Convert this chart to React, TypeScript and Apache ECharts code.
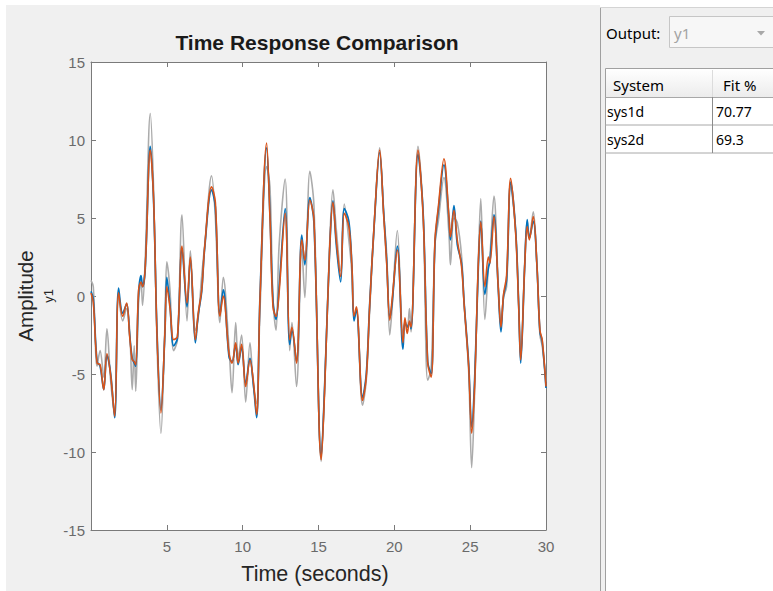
import React, { useEffect, useRef } from "react";
import * as echarts from "echarts";

// ---- data ----
const timeSec = [
  0.0, 0.15, 0.4, 0.6, 0.84, 1.05, 1.3, 1.56, 1.82, 2.09, 2.35, 2.55, 2.72, 2.85, 2.95,
  3.14, 3.3, 3.4, 3.58, 3.91, 4.13, 4.35, 4.61, 4.87, 5.0, 5.2, 5.45, 5.7, 6.0, 6.33,
  6.55, 6.88, 7.07, 7.3, 7.5, 7.95, 8.2, 8.5, 8.72, 9.1, 9.3, 9.54, 9.7, 9.93, 10.2,
  10.48, 10.7, 10.92, 11.14, 11.58, 11.8, 12.0, 12.2, 12.4, 12.8, 13.1, 13.25, 13.55, 13.9, 14.1,
  14.43, 14.7, 15.18, 15.4, 15.73, 15.95, 16.17, 16.46, 16.7, 17.0, 17.2, 17.34, 17.5, 17.9, 18.15,
  18.37, 18.7, 19.03, 19.3, 19.5, 19.7, 19.85, 20.2, 20.57, 20.7, 20.85, 21.0, 21.1, 21.56, 21.9,
  22.2, 22.43, 22.68, 22.9, 23.27, 23.6, 23.7, 23.93, 24.15, 24.43, 24.6, 24.9, 25.1, 25.3, 25.53,
  25.7, 25.97, 26.2, 26.3, 26.57, 26.85, 27.03, 27.2, 27.4, 27.67, 28.0, 28.2, 28.33, 28.6, 28.76,
  28.9, 29.16, 29.4, 29.6, 29.75, 30.0,
];

const measuredY1 = [
  1.0, 0.6, -4.5, -3.5, -5.2, -2.1, -5.5, -7.5, 0.0, -1.6, -0.8, -2.2, -6.0, -3.2, -6.1,
  -0.3, 0.9, -0.6, 2.5, 11.7, 6.8, -3.0, -8.8, -2.0, 2.2, 0.5, -3.5, -2.8, 5.2, -1.6,
  2.9, -2.2, -1.4, 1.3, 3.3, 7.7, 5.0, -1.7, 1.2, -3.3, -6.2, -1.7, -4.0, -2.5, -6.8,
  -3.0, -5.7, -6.9, -1.0, 8.3, 7.0, -0.3, -2.2, 3.2, 7.5, -3.5, -1.7, -5.8, 3.0, -0.1,
  8.0, 5.8, -10.6, -6.0, 3.2, 6.8, 4.3, 1.6, 5.9, 3.6, 1.5, -1.2, -1.0, -7.0, -5.4,
  -1.0, 5.0, 9.5, 5.3, 2.6, -2.5, -0.8, 4.2, -2.4, -1.8, -2.0, -0.8, -2.3, 9.6, 5.3,
  -5.4, -4.6, 3.3, 4.8, 7.6, 4.0, 2.0, 5.0, 4.7, 2.6, -0.5, -4.8, -11.0, -6.0, 2.0,
  6.25, -1.5, 1.8, 2.5, 6.4, 0.8, -1.8, -0.1, 0.6, 7.0, 4.2, -0.5, -3.8, 2.2, 4.8,
  3.8, 5.4, 2.0, -2.5, -3.2, -5.5,
];

const sys1dY1 = [
  0.3, -0.2, -4.2, -4.5, -6.0, -3.8, -5.0, -7.8, 0.5, -1.1, -0.5, -2.5, -4.0, -4.3, -4.5,
  0.2, 1.3, 0.6, 1.8, 9.6, 6.0, -2.2, -7.3, -2.5, 1.2, -0.5, -3.2, -2.7, 3.0, -0.7,
  2.4, -3.0, -1.2, 0.3, 3.1, 6.8, 5.7, -1.2, 0.4, -3.9, -4.2, -3.1, -4.4, -3.3, -5.6,
  -4.0, -5.6, -7.8, -0.1, 9.5, 5.2, -0.3, -1.5, 0.5, 5.6, -3.1, -2.2, -4.2, 3.9, 2.0,
  6.3, 4.7, -10.3, -5.9, 2.8, 6.1, 3.3, 0.9, 5.6, 4.8, 2.0, -1.6, -0.9, -6.5, -5.0,
  -0.6, 5.0, 9.2, 5.3, 2.2, -1.4, -0.5, 3.2, -3.4, -1.6, -2.0, -1.7, -2.1, 9.1, 5.3,
  -4.2, -5.0, 3.4, 5.5, 8.4, 5.0, 3.6, 5.8, 3.3, 2.1, -0.4, -4.3, -8.4, -5.2, 1.6,
  4.8, 0.1, 1.8, 2.2, 5.2, 0.5, -2.3, 0.0, 1.0, 7.3, 4.2, -0.6, -4.3, 2.0, 4.9,
  3.7, 4.8, 2.0, -2.3, -2.9, -5.9,
];

const sys2dY1 = [
  0.2, -0.4, -4.3, -4.4, -6.0, -3.7, -5.1, -7.7, 0.2, -1.3, -0.45, -2.6, -4.1, -4.2, -4.4,
  0.4, 0.9, 0.6, 1.9, 9.35, 6.15, -2.4, -7.5, -2.4, 0.6, -0.7, -2.8, -2.6, 3.2, -0.45,
  2.5, -2.8, -1.1, 0.4, 3.2, 7.0, 6.0, -1.3, 0.0, -3.7, -4.3, -3.0, -4.3, -3.1, -5.8,
  -4.1, -5.4, -7.6, -0.25, 9.8, 5.0, -0.7, -1.3, 0.2, 5.3, -2.8, -2.0, -4.3, 3.6, 2.3,
  6.15, 4.9, -10.5, -6.2, 2.95, 6.0, 3.6, 1.25, 5.3, 4.45, 2.0, -1.3, -0.7, -6.7, -5.2,
  -0.7, 5.1, 9.35, 5.1, 2.0, -1.55, -0.25, 2.95, -3.0, -1.4, -2.4, -1.6, -2.0, 9.35, 5.1,
  -4.3, -5.2, 3.6, 5.7, 8.8, 5.1, 3.8, 5.5, 3.6, 1.9, -0.5, -4.5, -8.8, -5.6, 1.9,
  4.75, 0.6, 2.5, 2.1, 5.1, 0.6, -2.0, 0.1, 1.3, 7.55, 4.0, -0.7, -4.1, 2.0, 4.45,
  3.6, 5.1, 2.0, -2.2, -2.8, -5.8,
];

const systemNames = ["sys1d", "sys2d"];
const fitPercent = ["70.77", "69.3"];
const outputName = "y1";

// ---- layout constants ----
const W = 773;
const H = 591;
const PLOT_L = 91;
const PLOT_R = 546;
const PLOT_T = 62;
const PLOT_B = 530;

const SANS = "'Liberation Sans', Arial, Helvetica, sans-serif";
const UI = "'Noto Sans', 'Open Sans', sans-serif";

function pairs(vals: number[]) {
  return timeSec.map((t, i) => [t, vals[i]]);
}

export default function App() {
  const ref = useRef<HTMLDivElement | null>(null);

  useEffect(() => {
    if (!ref.current) return;
    const chart = echarts.init(ref.current, undefined, { renderer: "svg" });

    const tableRows: any[] = [];
    systemNames.forEach((name, i) => {
      const cy = 111 + i * 28;
      tableRows.push({
        type: "text",
        z: 20,
        style: { text: name, x: 607, y: cy, font: `14px ${UI}`, fill: "#000", verticalAlign: "middle" },
      });
      tableRows.push({
        type: "text",
        z: 20,
        style: { text: fitPercent[i], x: 716, y: cy, font: `14px ${UI}`, fill: "#000", verticalAlign: "middle" },
      });
      tableRows.push({
        type: "line",
        z: 15,
        shape: { x1: 605, y1: 125 + i * 28, x2: 773, y2: 125 + i * 28 },
        style: { stroke: "#a8a8a8", lineWidth: 1 },
      });
    });

    const axisColor = "#7a7a7a";
    const tickLabel = { color: "#6a6a6a", fontSize: 15, fontFamily: SANS };

    const option: any = {
      animation: false,
      backgroundColor: "#ffffff",
      title: {
        text: "Time Response Comparison",
        left: 312,
        textAlign: "center",
        top: 27,
        textStyle: { fontFamily: SANS, fontSize: 21, fontWeight: "bold", color: "#1a1a1a" },
      },
      grid: { left: PLOT_L, right: W - PLOT_R, top: PLOT_T, bottom: H - PLOT_B, containLabel: false },
      xAxis: [
        {
          type: "value",
          min: 0,
          max: 30,
          interval: 5,
          position: "bottom",
          axisLine: { show: true, onZero: false, lineStyle: { color: axisColor, width: 1 } },
          axisTick: { show: true, inside: true, length: 5, lineStyle: { color: axisColor } },
          axisLabel: {
            ...tickLabel,
            margin: 9,
            showMinLabel: false,
            formatter: (v: number) => (v === 0 ? "" : String(v)),
          },
          splitLine: { show: false },
        },
        {
          type: "value",
          min: 0,
          max: 30,
          interval: 5,
          position: "top",
          axisLine: { show: true, onZero: false, lineStyle: { color: axisColor, width: 1 } },
          axisTick: { show: true, inside: true, length: 5, lineStyle: { color: axisColor } },
          axisLabel: { show: false },
          splitLine: { show: false },
        },
      ],
      yAxis: [
        {
          type: "value",
          min: -15,
          max: 15,
          interval: 5,
          position: "left",
          axisLine: { show: true, onZero: false, lineStyle: { color: axisColor, width: 1 } },
          axisTick: { show: true, inside: true, length: 5, lineStyle: { color: axisColor } },
          axisLabel: { ...tickLabel, margin: 6 },
          splitLine: { show: false },
        },
        {
          type: "value",
          min: -15,
          max: 15,
          interval: 5,
          position: "right",
          axisLine: { show: true, onZero: false, lineStyle: { color: axisColor, width: 1 } },
          axisTick: { show: true, inside: true, length: 5, lineStyle: { color: axisColor } },
          axisLabel: { show: false },
          splitLine: { show: false },
        },
      ],
      series: [
        {
          name: "y1 (measured)",
          type: "line",
          data: pairs(measuredY1),
          showSymbol: false,
          smooth: 0.35,
          z: 2,
          lineStyle: { color: "#ababab", width: 1.6 },
        },
        {
          name: "sys1d",
          type: "line",
          data: pairs(sys1dY1),
          showSymbol: false,
          smooth: 0.35,
          z: 3,
          lineStyle: { color: "#0072BD", width: 1.7 },
        },
        {
          name: "sys2d",
          type: "line",
          data: pairs(sys2dY1),
          showSymbol: false,
          smooth: 0.35,
          z: 4,
          lineStyle: { color: "#D95319", width: 1.6 },
        },
      ],
      graphic: [
        // left panel background
        { type: "rect", z: -10, silent: true, shape: { x: 6, y: 5, width: 594, height: H - 5 }, style: { fill: "#f0f0f0" } },
        // plot area
        {
          type: "rect",
          z: -9,
          silent: true,
          shape: { x: PLOT_L, y: PLOT_T, width: PLOT_R - PLOT_L, height: PLOT_B - PLOT_T },
          style: { fill: "#ffffff" },
        },
        // axis names
        {
          type: "text",
          z: 5,
          x: 25,
          y: (PLOT_T + PLOT_B) / 2,
          rotation: Math.PI / 2,
          style: { text: "Amplitude", font: `20.5px ${SANS}`, fill: "#262626", align: "center", verticalAlign: "middle" },
        },
        {
          type: "text",
          z: 5,
          x: 48,
          y: (PLOT_T + PLOT_B) / 2,
          rotation: Math.PI / 2,
          style: { text: outputName, font: `13px ${SANS}`, fill: "#262626", align: "center", verticalAlign: "middle" },
        },
        {
          type: "text",
          z: 5,
          x: 315,
          y: 574,
          style: { text: "Time (seconds)", font: `21.5px ${SANS}`, fill: "#262626", align: "center", verticalAlign: "middle" },
        },
        // right panel
        { type: "rect", z: -10, silent: true, shape: { x: 600, y: 7, width: 173, height: H - 7 }, style: { fill: "#f0f0f0" } },
        { type: "line", z: 15, shape: { x1: 600.5, y1: 7, x2: 600.5, y2: H }, style: { stroke: "#a0a0a0", lineWidth: 1 } },
        { type: "line", z: 15, shape: { x1: 600, y1: 7.5, x2: 773, y2: 7.5 }, style: { stroke: "#d4d4d4", lineWidth: 1 } },
        {
          type: "text",
          z: 20,
          style: { text: "Output:", x: 606, y: 33, font: `15px ${UI}`, fill: "#000", verticalAlign: "middle" },
        },
        {
          type: "rect",
          z: 15,
          shape: { x: 669.5, y: 16.5, width: 110, height: 31 },
          style: { fill: "#f7f7f7", stroke: "#c6c6c6", lineWidth: 1 },
        },
        {
          type: "text",
          z: 20,
          style: { text: outputName, x: 674, y: 33, font: `15px ${UI}`, fill: "#a3a3a3", verticalAlign: "middle" },
        },
        {
          type: "polygon",
          z: 20,
          shape: { points: [[757, 31], [765, 31], [761, 35.5]] },
          style: { fill: "#a8a8a8" },
        },
        // table
        {
          type: "rect",
          z: 14,
          shape: { x: 605.5, y: 68.5, width: 170, height: H - 68 },
          style: { fill: "#ffffff", stroke: "#a0a0a0", lineWidth: 1 },
        },
        {
          type: "rect",
          z: 15,
          shape: { x: 606, y: 69, width: 168, height: 28 },
          style: {
            fill: new echarts.graphic.LinearGradient(0, 0, 0, 1, [
              { offset: 0, color: "#ffffff" },
              { offset: 1, color: "#ececec" },
            ]),
          },
        },
        { type: "line", z: 16, shape: { x1: 712.5, y1: 70, x2: 712.5, y2: 97 }, style: { stroke: "#dcdcdc", lineWidth: 1 } },
        { type: "line", z: 16, shape: { x1: 605, y1: 97.5, x2: 773, y2: 97.5 }, style: { stroke: "#a8a8a8", lineWidth: 1 } },
        { type: "line", z: 16, shape: { x1: 712.5, y1: 97, x2: 712.5, y2: 153 }, style: { stroke: "#8c8c8c", lineWidth: 1 } },
        {
          type: "text",
          z: 20,
          style: { text: "System", x: 613, y: 85, font: `15px ${UI}`, fill: "#000", verticalAlign: "middle" },
        },
        {
          type: "text",
          z: 20,
          style: { text: "Fit %", x: 723, y: 85, font: `15px ${UI}`, fill: "#000", verticalAlign: "middle" },
        },
        ...tableRows,
      ],
    };

    chart.setOption(option);
    return () => {
      chart.dispose();
    };
  }, []);

  return (
    <div
      ref={ref}
      style={{ position: "absolute", left: 0, top: 0, width: W, height: H }}
    />
  );
}
